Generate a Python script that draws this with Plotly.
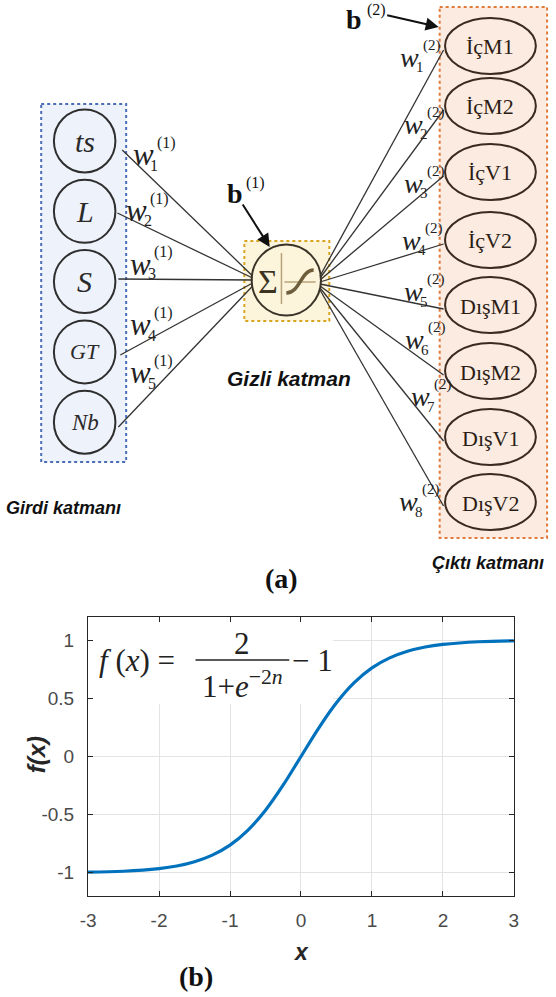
import plotly.graph_objects as go

# ---------------- data ----------------
input_labels = ["ts", "L", "S", "GT", "Nb"]
input_font_sizes = [30, 30, 30, 22, 23]
output_labels = ["İçM1", "İçM2", "İçV1", "İçV2", "DışM1", "DışM2", "DışV1", "DışV2"]
w1_subs = ["1", "2", "3", "4", "5"]
w2_subs = ["1", "2", "3", "4", "5", "6", "7", "8"]

curve_x = [-3, -2.5, -2, -1.75, -1.5, -1.25, -1, -0.75, -0.5, -0.25, 0,
           0.25, 0.5, 0.75, 1, 1.25, 1.5, 1.75, 2, 2.5, 3]
curve_y = [-0.995, -0.987, -0.964, -0.942, -0.905, -0.848, -0.762, -0.635, -0.462, -0.245, 0,
           0.245, 0.462, 0.635, 0.762, 0.848, 0.905, 0.942, 0.964, 0.987, 0.995]
x_ticks = [-3, -2, -1, 0, 1, 2, 3]
y_ticks = [-1, -0.5, 0, 0.5, 1]
y_tick_text = ["-1", "-0.5", "0", "0.5", "1"]

# ---------------- layout constants (canvas pixels) ----------------
W, H = 556, 997
SERIF = "Liberation Serif"
SANS = "Liberation Sans"

in_cx, in_r = 78.5, 31.5
in_y = [141 + 70.3 * i for i in range(5)]
in_line_start = [(117, 150), (112, 213), (113, 279), (115, 355), (113, 427)]
hid_cx, hid_cy, hid_r = 285, 280, 35.5
out_cx, out_rx, out_ry = 494, 46.5, 28
out_y = [46, 106, 172, 240, 305, 371, 437, 502]

w1_pos = [(139, 155), (132, 211), (136, 264), (136, 325), (136, 373)]
w2_pos = [(411, 57), (415, 124), (415, 183), (413, 240), (415, 292), (416, 340), (422, 397), (410, 502)]


def X(p):
    return p / W


def Y(p):
    return 1 - p / H


fig = go.Figure()

fig.add_trace(go.Scatter(x=curve_x, y=curve_y, mode="lines",
                         line=dict(color="#0072BD", width=3.2, shape="spline", smoothing=1.0),
                         hoverinfo="skip", showlegend=False))

shapes = []
ann = []

# white patch behind formula (covers grid)
shapes.append(dict(type="rect", xref="x", yref="y", x0=-3, x1=0.45, y0=0.45, y1=1.2,
                   fillcolor="white", line=dict(width=0), layer="between"))


def pshape(x0, y0, x1, y1, **kw):
    d = dict(xref="paper", yref="paper", x0=X(x0), y0=Y(y0), x1=X(x1), y1=Y(y1))
    d.update(kw)
    return d


def ptext(x, y, text, size, family=SERIF, color="#222", **kw):
    d = dict(xref="paper", yref="paper", x=X(x), y=Y(y), text=text, showarrow=False,
             xanchor="center", yanchor="middle", borderpad=0,
             font=dict(family=family, size=size, color=color))
    d.update(kw)
    ann.append(d)


def parrow(x_tail, y_tail, x_head, y_head):
    ann.append(dict(xref="paper", yref="paper", x=X(x_head), y=Y(y_head),
                    ax=x_tail - x_head, ay=y_tail - y_head, text="", showarrow=True,
                    arrowhead=2, arrowsize=1.3, arrowwidth=2, arrowcolor="#111"))


# boxes
shapes.append(pshape(34, 104, 121, 462, type="rect", fillcolor="#eef2fb",
                     line=dict(color="#4a6db5", width=2, dash="dot"), layer="below"))
shapes.append(pshape(242, 241, 329, 321, type="rect", fillcolor="#fdf4dc",
                     line=dict(color="#d9a520", width=2, dash="dot"), layer="below"))
shapes.append(pshape(442, 7, 552, 538, type="rect", fillcolor="#fcebe0",
                     line=dict(color="#e07a3a", width=2, dash="dot"), layer="below"))

# input circles
for i, y in enumerate(in_y):
    shapes.append(pshape(in_cx - in_r, y - in_r, in_cx + in_r, y + in_r, type="circle",
                         line=dict(color="#2e2e2e", width=2)))
    ptext(in_cx, y, "<i>%s</i>" % input_labels[i], input_font_sizes[i], color="#2a2a2a")

# input -> hidden lines
end_y = [276, 278, 280, 283, 286]
for (sx, sy), ey in zip(in_line_start, end_y):
    shapes.append(pshape(sx, sy, hid_cx - hid_r + 1, ey, type="line", line=dict(color="#333", width=1.3)))

# hidden -> output lines
for j, y in enumerate(out_y):
    sy = 276 + j * 2
    shapes.append(pshape(hid_cx + hid_r - 1, sy, 446, y + 4, type="line", line=dict(color="#333", width=1.3)))

# hidden circle
shapes.append(pshape(hid_cx - hid_r, hid_cy - hid_r, hid_cx + hid_r, hid_cy + hid_r, type="circle",
                     line=dict(color="#3a3428", width=2)))
shapes.append(pshape(280, 253, 280, 304, type="line", line=dict(color="#b8a47a", width=1.5)))
shapes.append(pshape(283, 282, 315, 282, type="line", line=dict(color="#b8a47a", width=1.5)))
sig = [(285, 293), (299, 293), (300, 270), (313, 270)]
shapes.append(dict(type="path", xref="paper", yref="paper",
                   path="M %.5f,%.5f C %.5f,%.5f %.5f,%.5f %.5f,%.5f" % tuple(
                       v for (a, b) in sig for v in (X(a), Y(b))),
                   line=dict(color="#6e5e3c", width=3.5)))
ptext(266, 281, "Σ", 34, color="#3b3320")

# output ellipses
for i, y in enumerate(out_y):
    shapes.append(pshape(out_cx - out_rx, y - out_ry, out_cx + out_rx, y + out_ry, type="circle",
                         line=dict(color="#3a2a20", width=2)))
    ptext(out_cx, y + 1, output_labels[i], 22, color="#2b1d16")


def wlabel(x, y, sub, sup, size, ssize):
    ptext(x, y, "<i>w</i>", size)
    ptext(x + 11, y + 10, sub, ssize)
    ptext(x + 23, y - 12, sup, ssize)


for (x, y), s in zip(w1_pos, w1_subs):
    wlabel(x, y, s, "(1)", 31, 16)
for (x, y), s in zip(w2_pos, w2_subs):
    wlabel(x, y, s, "(2)", 28, 15)

# biases
ptext(232, 194, "<b>b</b>", 28, color="#111")
ptext(253, 183, "(1)", 16, color="#111")
parrow(240, 203, 268, 247)
ptext(354, 20, "<b>b</b>", 28, color="#111")
ptext(377, 10, "(2)", 16, color="#111")
parrow(388, 15, 441, 27)

# captions
ptext(-3, 508, "<b><i>Girdi katmanı</i></b>", 18, family=SANS, color="#111", xanchor="left")
ptext(288, 378, "<b><i>Gizli katman</i></b>", 21, family=SANS, color="#111")
ptext(492, 563, "<b><i>Çıktı katmanı</i></b>", 18, family=SANS, color="#111")
ptext(280, 578, "<b>(a)</b>", 28, color="#111")
ptext(193, 976, "<b>(b)</b>", 28, color="#111")

# formula
ptext(92, 660, "<i>f</i> (<i>x</i>) =", 31, xanchor="left")
ptext(240, 643, "2", 31)
shapes.append(pshape(192, 660, 288, 660, type="line", line=dict(color="#222", width=1.5), layer="above"))
ptext(240, 684, "1+<i>e</i><sup>−2<i>n</i></sup>", 31)
ptext(290, 660, "− 1", 31, xanchor="left")

# axis titles
ptext(300, 952, "<b><i>x</i></b>", 23, family=SANS, color="#262626")
ptext(29, 755, "<b><i>f(x)</i></b>", 24, family=SANS, color="#262626", textangle=-90)

axis_common = dict(showline=True, linecolor="#262626", linewidth=1.2, mirror="ticks",
                   ticks="inside", ticklen=5, tickcolor="#262626", showgrid=True,
                   gridcolor="#e3e3e3", gridwidth=1, zeroline=False,
                   tickfont=dict(family=SANS, size=19, color="#4a4a4a"))

fig.update_layout(
    width=W, height=H, margin=dict(l=0, r=0, t=0, b=0),
    paper_bgcolor="white", plot_bgcolor="white", showlegend=False,
    xaxis=dict(domain=[X(82), X(518)], range=[-3, 3], tickvals=x_ticks,
               ticktext=[str(v) for v in x_ticks], ticklabelstandoff=7, **axis_common),
    yaxis=dict(domain=[Y(896), Y(617)], range=[-1.2, 1.2], tickvals=y_ticks,
               ticktext=y_tick_text, ticklabelstandoff=9, **axis_common),
    shapes=shapes, annotations=ann,
)

fig.write_html("out.html")
